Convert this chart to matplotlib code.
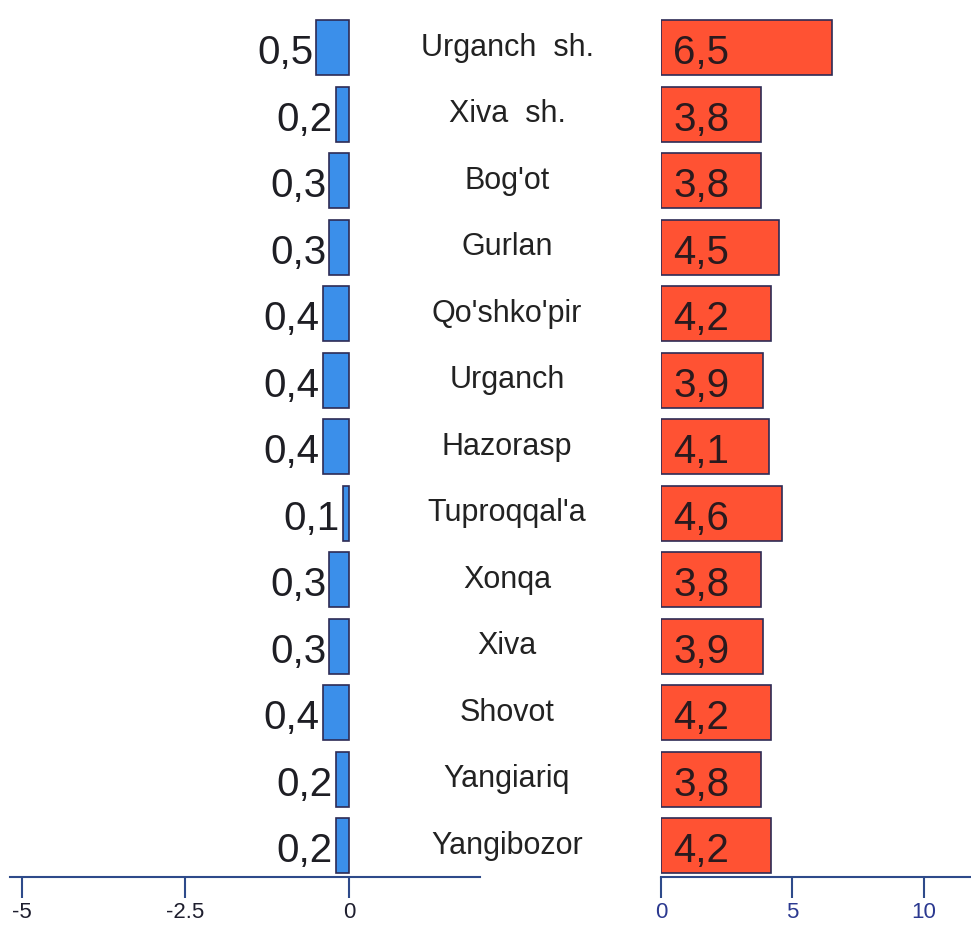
import matplotlib.pyplot as plt
import numpy as np

plt.rcParams['font.family'] = ['Liberation Sans', 'DejaVu Sans']

districts = ['Urganch  sh.', 'Xiva  sh.', "Bog'ot", 'Gurlan', "Qo'shko'pir",
             'Urganch', 'Hazorasp', "Tuproqqal'a", 'Xonqa', 'Xiva', 'Shovot',
             'Yangiariq', 'Yangibozor']
left_vals = [0.5, 0.2, 0.3, 0.3, 0.4, 0.4, 0.4, 0.1, 0.3, 0.3, 0.4, 0.2, 0.2]
right_vals = [6.5, 3.8, 3.8, 4.5, 4.2, 3.9, 4.1, 4.6, 3.8, 3.9, 4.2, 3.8, 4.2]
left_ticks = [-5, -2.5, 0]
left_ticklabels = ['-5', '-2.5', '0']
right_ticks = [0, 5, 10]
right_ticklabels = ['0', '5', '10']

W, H = 971, 925
fig = plt.figure(figsize=(W / 100, H / 100), dpi=100)
axl = fig.add_axes([10 / W, 48 / H, 470 / W, 877 / H])
axr = fig.add_axes([661 / W, 48 / H, 310 / W, 877 / H])

y = np.arange(len(districts))
edge = '#2d2b55'
axis_col = '#2e4a8a'

axl.barh(y, [-v for v in left_vals], height=0.83, color='#3b8fea',
         edgecolor=edge, linewidth=1.2)
axr.barh(y, right_vals, height=0.83, color='#ff5233',
         edgecolor=edge, linewidth=1.2)

# value labels, decimal comma as in the original
for yi, v in zip(y, left_vals):
    axl.text(-v - 0.05, yi + 0.25, f'{v}'.replace('.', ','), ha='right',
             va='baseline', fontsize=29, color='#1e1e24')
for yi, v in zip(y, right_vals):
    axr.text(0.46, yi + 0.25, f'{v}'.replace('.', ','), ha='left',
             va='baseline', fontsize=29, color='#2a1a1e')

# district names in the gap between the two panels
for yi, name in zip(y, districts):
    axl.text((507 - 10) / 470, yi + 0.12, name, ha='center', va='baseline',
             fontsize=22, color='#222222', transform=axl.get_yaxis_transform(),
             clip_on=False)

axl.set_xlim(-5.18, 2.0)
axr.set_xlim(0, 11.8)
for ax in (axl, axr):
    ax.set_ylim(12.47, -0.72)
    ax.set_yticks([])
    for s in ('top', 'right', 'left'):
        ax.spines[s].set_visible(False)
    ax.spines['bottom'].set_color(axis_col)
    ax.spines['bottom'].set_linewidth(1.5)
    ax.tick_params(axis='x', direction='out', length=15, width=1.5,
                   color=axis_col, labelsize=16, pad=3)
    ax.patch.set_alpha(0)

axl.set_xticks(left_ticks)
axl.set_xticklabels(left_ticklabels, color='#1e1e2e')
axr.set_xticks(right_ticks)
axr.set_xticklabels(right_ticklabels, color='#2b3990')

fig.savefig('out.png', dpi=100)
